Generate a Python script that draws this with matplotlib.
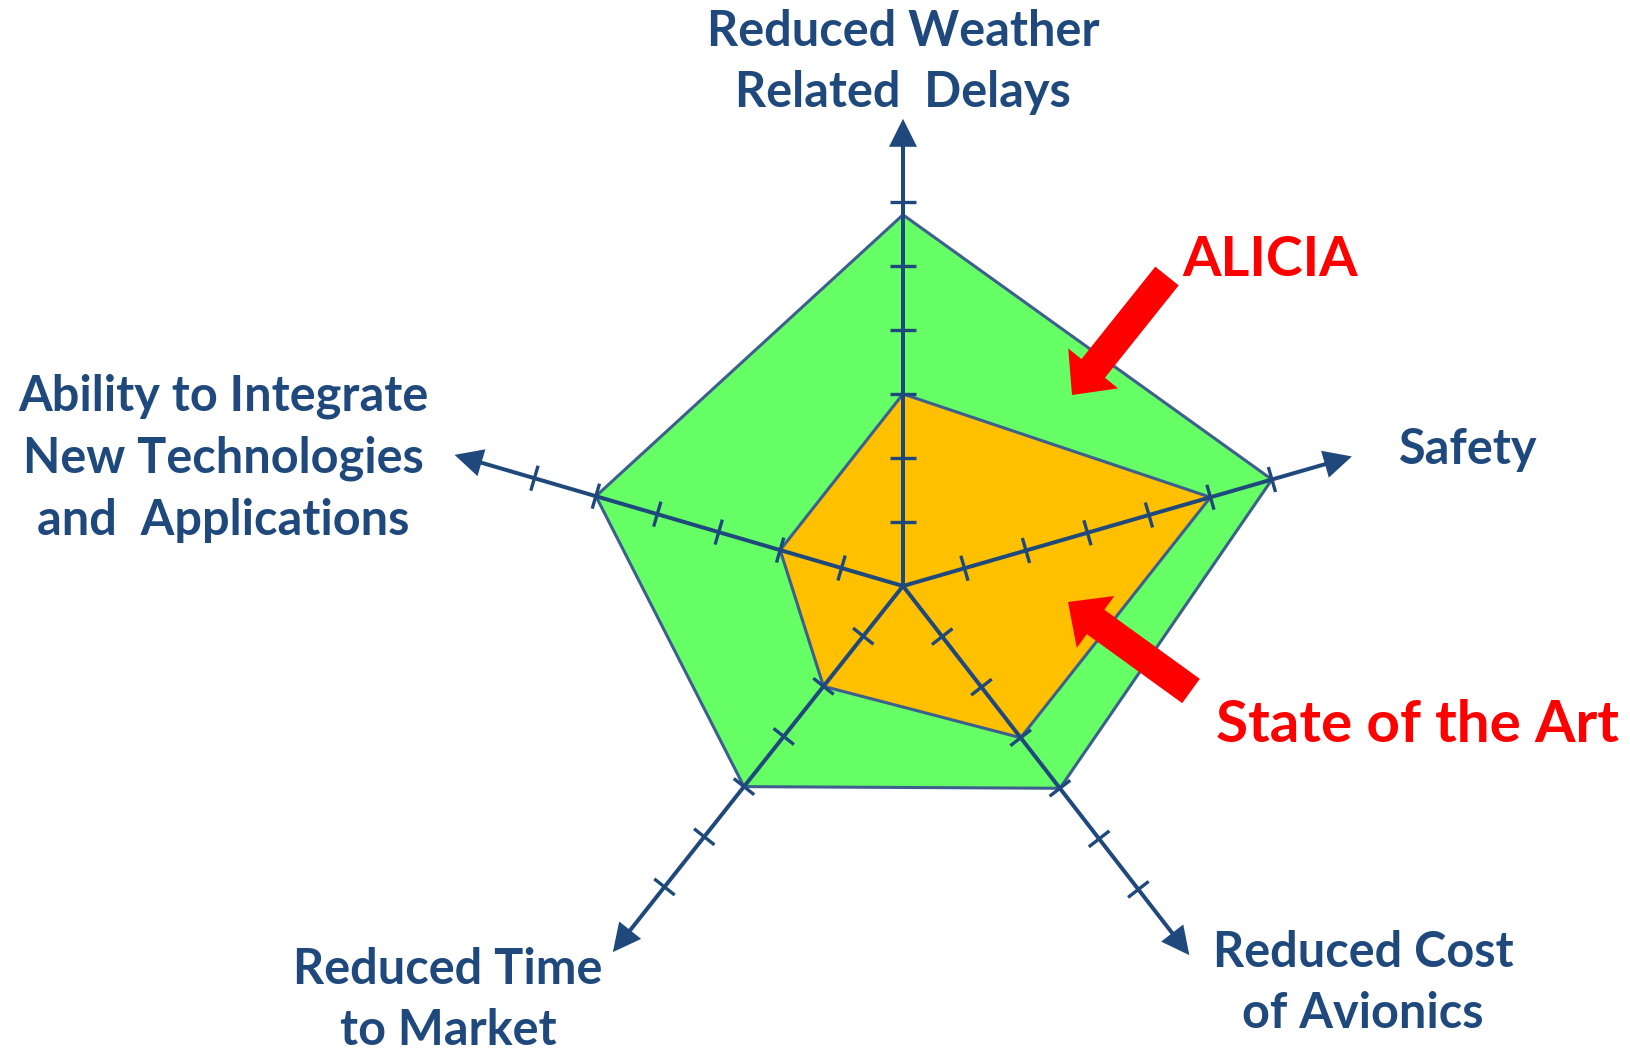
import numpy as np
import matplotlib.pyplot as plt
from matplotlib.patches import Polygon, FancyArrow

# axes of the radar, clockwise from the top
categories = ['Reduced Weather\nRelated  Delays', 'Safety', 'Reduced Cost\nof Avionics',
              'Reduced Time\nto Market', 'Ability to Integrate\nNew Technologies\nand  Applications']
alicia = [5.8, 6, 4, 4, 5]
state_of_art = [3, 5, 3, 2, 2]
tick_values = [1, 2, 3, 4, 5, 6]

# layout (pixel coordinates of the 1630x1052 canvas)
angles = np.deg2rad([90, 16.1, -52.2, -128.4, 163.7])
cx, cy = 903, 586
unit = 64.0
axis_len = 7.3

axis_col = '#1F497D'
edge_col = '#3D5F8E'
green = '#66FF66'
orange = '#FFC000'
red = '#FF0000'

plt.rcParams['font.family'] = ['Lato', 'DejaVu Sans']

fig = plt.figure(figsize=(16.3, 10.52), dpi=100, facecolor='white')
ax = fig.add_axes([0, 0, 1, 1])
ax.set_xlim(0, 1630)
ax.set_ylim(1052, 0)
ax.set_aspect('equal')
ax.axis('off')


def to_xy(values):
    v = np.asarray(values, dtype=float)
    return np.column_stack([cx + v * unit * np.cos(angles), cy - v * unit * np.sin(angles)])


ax.add_patch(Polygon(to_xy(alicia), closed=True, facecolor=green, edgecolor=edge_col, lw=2.2, zorder=1))
ax.add_patch(Polygon(to_xy(state_of_art), closed=True, facecolor=orange, edgecolor=edge_col, lw=2.2, zorder=2))

# axes with arrow heads and tick marks
for a in angles:
    dx, dy = np.cos(a), -np.sin(a)
    L = axis_len * unit
    ax.add_patch(FancyArrow(cx, cy, L * dx, L * dy, width=4.0, head_width=28, head_length=28,
                            length_includes_head=True, color=axis_col, lw=0, zorder=3))
    px, py = -dy, dx
    for t in tick_values:
        tx, ty = cx + t * unit * dx, cy + t * unit * dy
        ax.plot([tx - 13 * px, tx + 13 * px], [ty - 13 * py, ty + 13 * py],
                color=axis_col, lw=2.4, solid_capstyle='butt', zorder=3)

# category labels
label_pos = [(903, 62), (1468, 450), (1363, 983), (448, 1000), (223, 458)]
for lab, (x, y) in zip(categories, label_pos):
    ax.text(x, y, lab, ha='center', va='center', fontsize=35, fontweight='bold',
            color=axis_col, linespacing=1.45)

# red call-outs
ax.text(1270, 260, 'ALICIA', ha='center', va='center', fontsize=40, fontweight='bold', color=red)
ax.text(1417, 725, 'State of the Art', ha='center', va='center', fontsize=42, fontweight='bold', color=red)
for (x0, y0), (x1, y1) in [((1167, 276), (1072, 395)), ((1191, 691), (1068, 602))]:
    ax.add_patch(FancyArrow(x0, y0, x1 - x0, y1 - y0, width=30, head_width=64, head_length=34,
                            length_includes_head=True, color=red, lw=0, zorder=4))

plt.savefig('out.png', dpi=100, facecolor='white')
